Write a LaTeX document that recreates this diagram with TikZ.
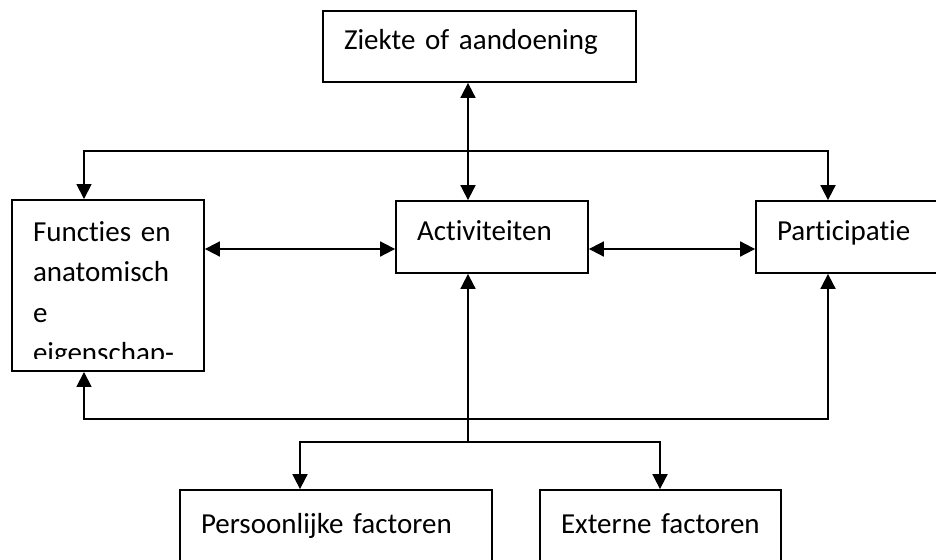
\documentclass[tikz,border=0pt]{standalone}
\usepackage{fontspec}
\setmainfont{Carlito}[Ligatures=NoCommon]
\usetikzlibrary{arrows.meta}

\begin{document}
\begin{tikzpicture}[x=1pt,y=-1pt,line width=1.8pt,
  box/.style={draw,rectangle,inner xsep=21pt,align=left,font=\fontsize{29pt}{40.5pt}\selectfont},
  one/.style={-{Triangle[length=15pt,width=15pt]}},
  dbl/.style={{Triangle[length=15pt,width=15pt]}-{Triangle[length=15pt,width=15pt]}}]
\fill[white] (0,0) rectangle (936,559);
\useasboundingbox (0,0) rectangle (936,559);
\clip (0,0) rectangle (936,559);
\node[box,text width=271pt,minimum height=71pt,text height=20pt,text depth=14pt] (ziekte) at (479.5,46.5) {Ziekte of aandoening};
\node[box,text width=150pt,minimum height=169pt] (func) at (108,285.5) {\rule{0pt}{38pt}Functies en\\anatomisch\\e\\eigenschap-};
\node[box,text width=150pt,minimum height=72pt,text height=20pt,text depth=14pt] (act) at (492,237) {Activiteiten};
\node[box,text width=150pt,minimum height=72pt,text height=20pt,text depth=14pt] (part) at (852,237) {Participatie};
\node[box,text width=270pt,minimum height=80pt,text height=20pt,text depth=14pt] (pers) at (336,530) {Persoonlijke factoren};
\node[box,text width=199pt,minimum height=80pt,text height=20pt,text depth=14pt] (ext) at (660.5,530) {Externe factoren};
\coordinate (split) at (468,442);
% cut off the last line of the left box
\fill[white] ([xshift=1.8pt,yshift=13pt]func.south west) rectangle ([xshift=-1.8pt,yshift=1.8pt]func.south east);
\draw[dbl] ([xshift=-24pt]act.north) -- ([xshift=-24pt]act.north |- ziekte.south);
\draw[dbl] ([xshift=-24pt]func.north) -- ++(0,-48) -| ([xshift=-24pt]part.north);
\draw[dbl] ([yshift=-12pt]act.west) -- ([yshift=-12pt]act.west -| func.east);
\draw[dbl] ([yshift=-12pt]act.east) -- ([yshift=-12pt]act.east -| part.west);
\draw[dbl] ([xshift=-24pt]func.south) -- ++(0,47) -| ([xshift=-24pt]part.south);
\draw[one] (split) -- (split |- act.south);
\draw[one] (split) -| ([xshift=-36pt]pers.north);
\draw[one] (split) -| ([xshift=-0.5pt]ext.north);
\end{tikzpicture}
\end{document}
